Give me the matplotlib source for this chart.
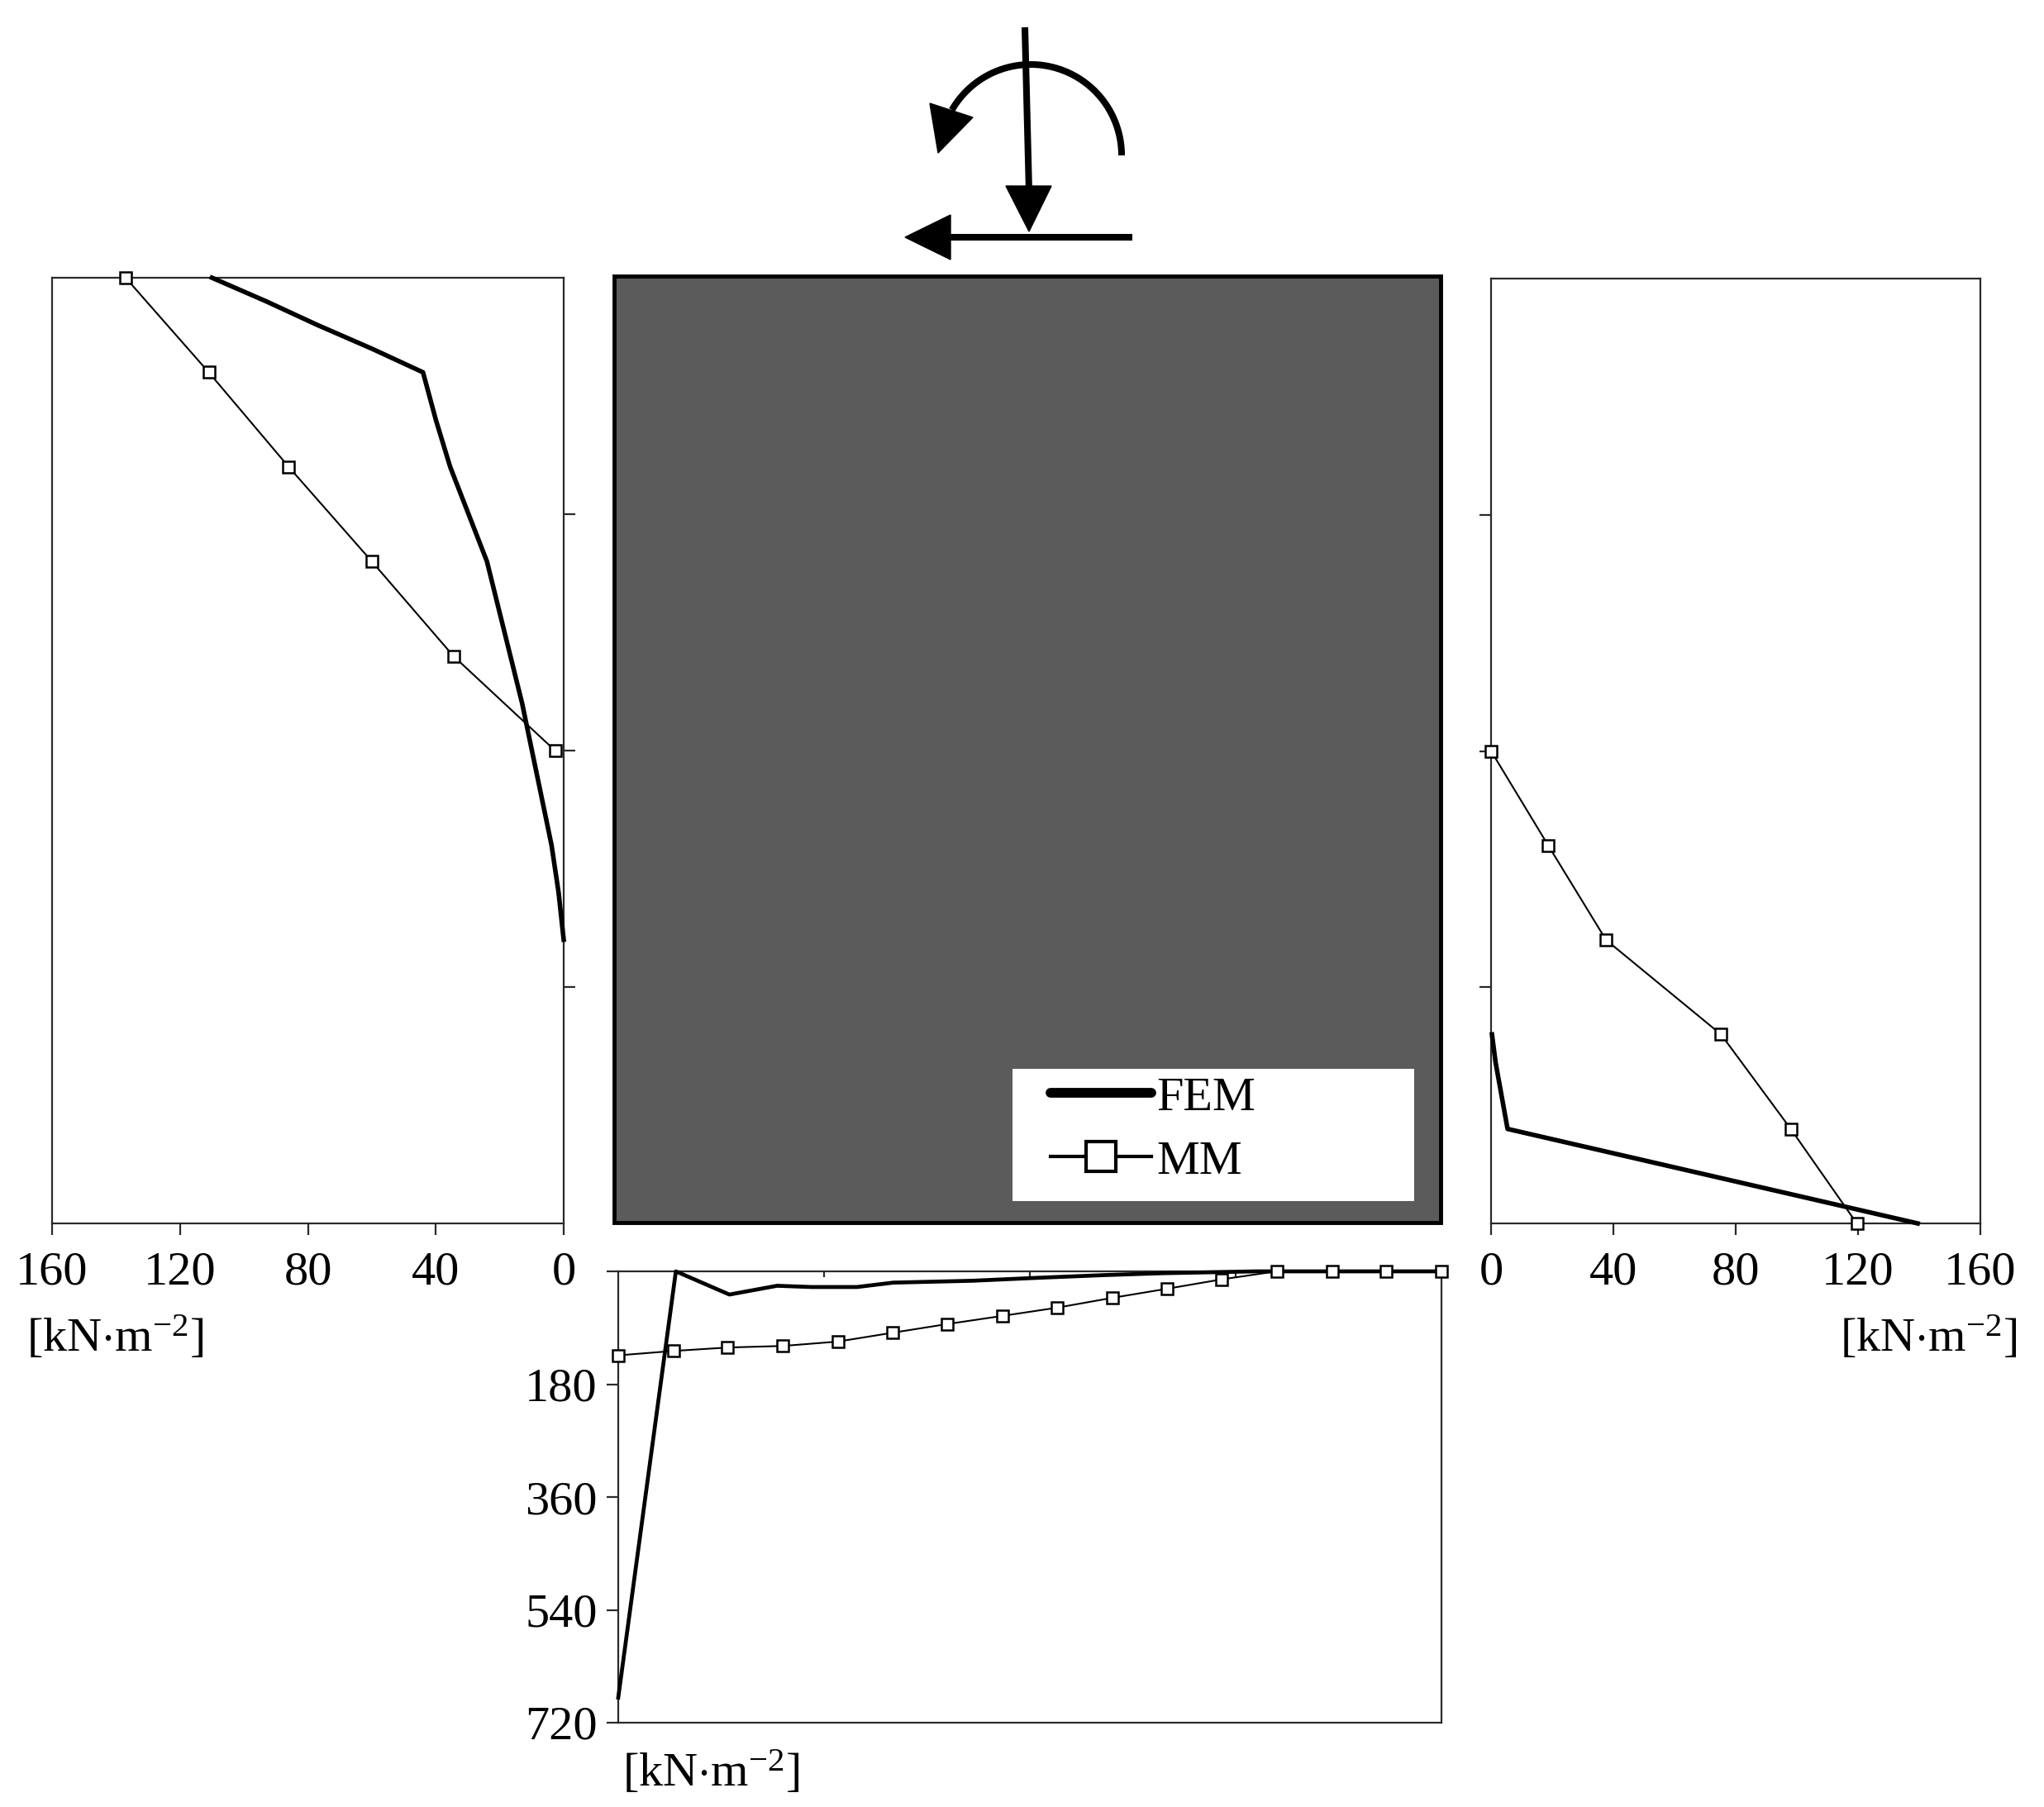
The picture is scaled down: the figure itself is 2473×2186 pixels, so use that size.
import numpy as np
import matplotlib
matplotlib.use("Agg")
import matplotlib.pyplot as plt
from matplotlib.patches import Rectangle, Polygon
from matplotlib.lines import Line2D

plt.rcParams['font.family'] = ['Liberation Serif', 'DejaVu Serif']
plt.rcParams['mathtext.fontset'] = 'custom'
plt.rcParams['mathtext.rm'] = 'Liberation Serif'
plt.rcParams['mathtext.it'] = 'Liberation Serif:italic'

# ---------------- data ----------------
# left face (depth as fraction of block height, 0 = top)
left_mm_depth = [0.0, 0.1, 0.2, 0.3, 0.4, 0.5]
left_mm_p = [137, 111, 86, 60, 34.5, 2.7]
left_fem_depth = [0.0, 0.025, 0.05, 0.075, 0.1, 0.15, 0.2, 0.3, 0.45, 0.6, 0.65, 0.7]
left_fem_p = [110, 93, 77, 60, 44, 40, 35.5, 24, 13, 3.8, 1.6, 0.0]

# right face
right_mm_depth = [0.5, 0.6, 0.7, 0.8, 0.9, 1.0]
right_mm_p = [0.0, 18.7, 37.6, 75.2, 98.0, 119.6]
right_fem_depth = [0.8, 0.83, 0.9, 1.0]
right_fem_p = [0.3, 1.5, 5.4, 139.5]

# base (position as fraction of block width, 0 = left)
base_mm_pos = [0.0, 0.067, 0.133, 0.2, 0.267, 0.333, 0.4, 0.467, 0.533,
               0.6, 0.667, 0.733, 0.8, 0.867, 0.933, 1.0]
base_mm_p = [134, 127, 121.5, 119, 112, 98, 84, 71, 58, 42.3, 27.7, 12.8, 0, 0, 0, 0]
base_fem_pos = [0.0, 0.070, 0.135, 0.193, 0.235, 0.29, 0.334, 0.43, 0.515, 0.59, 0.66, 0.776, 1.0]
base_fem_p = [680, 0, 37, 23, 25, 25, 18, 15, 10, 6, 3, 0, 0]

side_ticks = [160, 120, 80, 40, 0]
base_ticks = [0, 180, 360, 540, 720]
base_tick_labels = ['', '180', '360', '540', '720']
unit_label = r'[kN$\cdot$m$^{\mathregular{-2}}$]'

# ---------------- figure ----------------
W, H = 2473, 2186
fig = plt.figure(figsize=(W / 100, H / 100), dpi=100)
FS = 42
SPC = '#2a2a2a'


def px_axes(x0, y0, x1, y1, **kw):
    return fig.add_axes([x0 / W, 1 - y1 / H, (x1 - x0) / W, (y1 - y0) / H], **kw)


# background / decoration layer
ax_bg = px_axes(0, 0, W, H, zorder=0)
ax_bg.set_xlim(0, W)
ax_bg.set_ylim(H, 0)
ax_bg.axis('off')
ax_bg.add_patch(Rectangle((743, 334), 1000, 1145, facecolor='#5b5b5b',
                          edgecolor='black', lw=3.5))
ax_bg.add_patch(Rectangle((1225, 1293), 486, 160, facecolor='white', edgecolor='none'))

# load symbol
lw_load = 5.8
ax_bg.plot([1240, 1245], [33, 232], color='k', lw=lw_load, solid_capstyle='butt')
ax_bg.add_patch(Polygon([(1217, 225), (1272, 225), (1245, 280)], closed=True, color='k'))
ax_bg.plot([1370, 1140], [287, 287], color='k', lw=lw_load, solid_capstyle='butt')
ax_bg.add_patch(Polygon([(1095, 287), (1150, 260), (1150, 314)], closed=True, color='k'))
t = np.radians(np.linspace(0, 150, 120))
ax_bg.plot(1247 + 110 * np.cos(t), 188 - 110 * np.sin(t), color='k', lw=lw_load,
           solid_capstyle='butt')
ax_bg.add_patch(Polygon([(1125, 125), (1177, 142), (1135, 185)], closed=True, color='k'))

fem_kw = dict(color='black', lw=4.0, solid_joinstyle='round', clip_on=False, zorder=3)
mm_kw = dict(color='black', lw=1.5, marker='s', markersize=10, markerfacecolor='white',
             markeredgecolor='black', markeredgewidth=1.8, clip_on=False, zorder=4)


def style_spines(ax):
    for s in ax.spines.values():
        s.set_color(SPC)
        s.set_linewidth(1.6)


# ---- left panel ----
axL = px_axes(63, 336, 682, 1480)
axL.plot(left_fem_p, left_fem_depth, **fem_kw)
axL.plot(left_mm_p, left_mm_depth, **mm_kw)
axL.set_xlim(160, 0)
axL.set_ylim(1, 0)
axL.set_xticks(side_ticks)
axL.set_xticklabels([str(v) for v in side_ticks])
axL.yaxis.tick_right()
axL.set_yticks([0.25, 0.5, 0.75])
axL.set_yticklabels([])
axL.tick_params(axis='x', direction='out', length=10, width=1.6, color=SPC,
                labelsize=FS, pad=14)
axL.tick_params(axis='y', direction='out', length=10, width=1.6, color=SPC)
style_spines(axL)

# ---- right panel ----
axR = px_axes(1804, 337, 2396, 1480)
axR.plot(right_fem_p, right_fem_depth, **fem_kw)
axR.plot(right_mm_p, right_mm_depth, **mm_kw)
axR.set_xlim(0, 160)
axR.set_ylim(1, 0)
axR.set_xticks(side_ticks)
axR.set_xticklabels([str(v) for v in side_ticks])
axR.set_yticks([0.25, 0.5, 0.75])
axR.set_yticklabels([])
axR.tick_params(axis='x', direction='out', length=10, width=1.6, color=SPC,
                labelsize=FS, pad=14)
axR.tick_params(axis='y', direction='out', length=10, width=1.6, color=SPC)
style_spines(axR)

# ---- base panel ----
axB = px_axes(748, 1538, 1744, 2084)
axB.plot(base_fem_pos, base_fem_p, color='black', lw=3.4, solid_joinstyle='round',
         clip_on=False, zorder=3)
axB.plot(base_mm_pos, base_mm_p, **mm_kw)
axB.set_xlim(0, 1)
axB.set_ylim(720, 0)
axB.set_yticks(base_ticks)
axB.set_yticklabels(base_tick_labels)
axB.xaxis.tick_top()
axB.set_xticks([0.25, 0.5, 0.75])
axB.set_xticklabels([])
axB.tick_params(axis='x', direction='in', length=5, width=1.6, color=SPC)
axB.tick_params(axis='y', direction='out', length=10, width=1.6, color=SPC,
                labelsize=FS, pad=8)
style_spines(axB)

# unit labels
fig.text(32 / W, 1 - 1619 / H, unit_label, fontsize=FS, ha='left', va='center')
fig.text(2441 / W, 1 - 1619 / H, unit_label, fontsize=FS, ha='right', va='center')
fig.text(753 / W, 1 - 2145 / H, unit_label, fontsize=FS, ha='left', va='center')

# legend
handles = [Line2D([], [], color='black', lw=8.5, solid_capstyle='round'),
           Line2D([], [], color='black', lw=3.0, marker='s', markersize=26,
                  markerfacecolor='white', markeredgecolor='black', markeredgewidth=3)]
ax_bg.legend(handles, ['FEM', 'MM'], loc='upper left',
             bbox_to_anchor=(1262 / W, 1 - 1293 / H), bbox_transform=fig.transFigure,
             frameon=False, fontsize=FS, handlelength=2.1, handletextpad=0.1,
             labelspacing=0.42, borderpad=0.15, borderaxespad=0)

fig.savefig('out.png', dpi=100)
